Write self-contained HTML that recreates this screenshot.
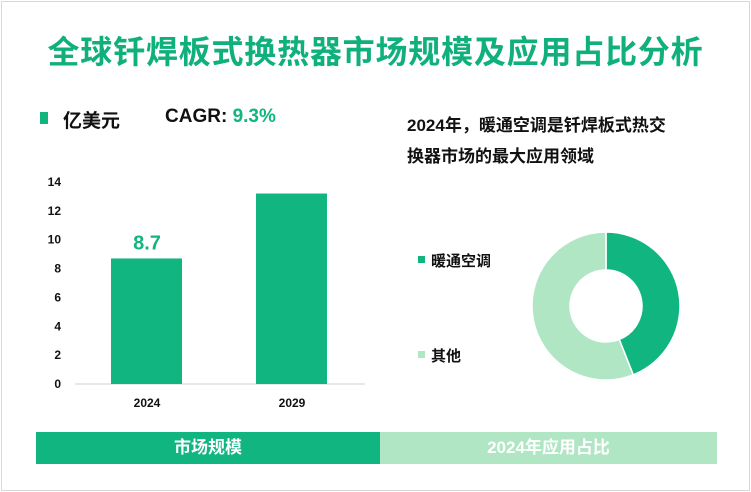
<!DOCTYPE html>
<html><head><meta charset="utf-8"><style>
body{margin:0;width:751px;height:492px;overflow:hidden;background:#fff;font-family:"Liberation Sans","Noto Sans CJK SC",sans-serif;}
.frame{position:absolute;left:1px;top:1px;width:747px;height:488px;border:1px solid #d8d8d8;}
.t{position:absolute;white-space:nowrap;}
</style></head><body>
<div class="frame"></div>
<div class="t" style="left:0;width:751px;text-align:center;top:27px;font-size:32px;letter-spacing:0.8px;font-weight:bold;color:#10b07c;">全球钎焊板式换热器市场规模及应用占比分析</div>
<div style="position:absolute;left:40px;top:112px;width:8px;height:12px;background:#10b57f"></div>
<div class="t" style="left:63px;top:106px;font-size:19px;font-weight:bold;color:#111">亿美元</div>
<div class="t" style="left:165px;top:106px;font-size:19px;font-weight:bold;color:#111">CAGR: <span style="color:#10b57f">9.3%</span></div>
<div class="t" style="left:407px;top:110px;font-size:17px;font-weight:bold;color:#111;line-height:31px">2024年，暖通空调是钎焊板式热交<br>换器市场的最大应用领域</div>
<svg id="c" width="751" height="492" style="position:absolute;left:0;top:0"></svg>
<div class="t" style="left:36px;top:432px;width:344px;height:32px;background:#10b57f;color:#fff;font-size:17px;font-weight:bold;text-align:center;line-height:32px">市场规模</div>
<div class="t" style="left:380px;top:432px;width:337px;height:32px;background:#b0e6c4;color:#fff;font-size:17px;font-weight:bold;text-align:center;line-height:32px">2024年应用占比</div>
<script>
const categories=["2024","2029"];
const values=[8.7,13.2];
const valueLabels=["8.7",""];
const yTicks=[0,2,4,6,8,10,12,14];
const pieLabels=["暖通空调","其他"];
const pieValues=[44,56];
const pieColors=["#10b57f","#b0e6c4"];
const svg=document.getElementById('c');const NS='http://www.w3.org/2000/svg';
function mk(t,a,p){const e=document.createElementNS(NS,t);for(const k in a)e.setAttribute(k,a[k]);(p||svg).appendChild(e);return e;}
const y0=384,pxu=14.43;const y=v=>y0-v*pxu;
const x=i=>147+i*145;
yTicks.forEach(v=>{const t=mk('text',{x:61,y:y(v)+4,'text-anchor':'end','font-size':12,'font-weight':'bold',fill:'#111'});t.textContent=v;
});
const ax=mk('line',{x1:75,x2:365,y1:y0,y2:y0,stroke:'#d0d0d0','stroke-width':1});

categories.forEach((c,i)=>{
const b=mk('rect',{x:x(i)-36,y:y(values[i]),width:71,height:values[i]*pxu,fill:'#10b57f'});

const l=mk('text',{x:x(i),y:407,'text-anchor':'middle','font-size':12,'font-weight':'bold',fill:'#111'});l.textContent=c;

if(valueLabels[i]){const v=mk('text',{x:x(i),y:y(values[i])-9,'text-anchor':'middle','font-size':20,'font-weight':'bold',fill:'#10b57f'});v.textContent=valueLabels[i];
}
});
const cx=606,cy=306,R=74,r=36;const tot=pieValues.reduce((a,b)=>a+b,0);let a0=0;
pieValues.forEach((v,i)=>{const a1=a0+v/tot*2*Math.PI;
const p=(ang,rr)=>[cx+rr*Math.sin(ang),cy-rr*Math.cos(ang)];
const [x1,y1]=p(a0,R),[x2,y2]=p(a1,R),[x3,y3]=p(a1,r),[x4,y4]=p(a0,r);const lg=(a1-a0)>Math.PI?1:0;
const s=mk('path',{d:`M${x1},${y1}A${R},${R} 0 ${lg} 1 ${x2},${y2}L${x3},${y3}A${r},${r} 0 ${lg} 0 ${x4},${y4}Z`,fill:pieColors[i],stroke:'#fff','stroke-width':1.5});
a0=a1;
const ly=[261,356][i];
const m=mk('rect',{x:418,y:ly-5,width:7,height:7,fill:pieColors[i]});

const t=mk('text',{x:431,y:ly+5,'font-size':15,'font-weight':'bold',fill:'#111'});t.textContent=pieLabels[i];

});
</script>
</body></html>
